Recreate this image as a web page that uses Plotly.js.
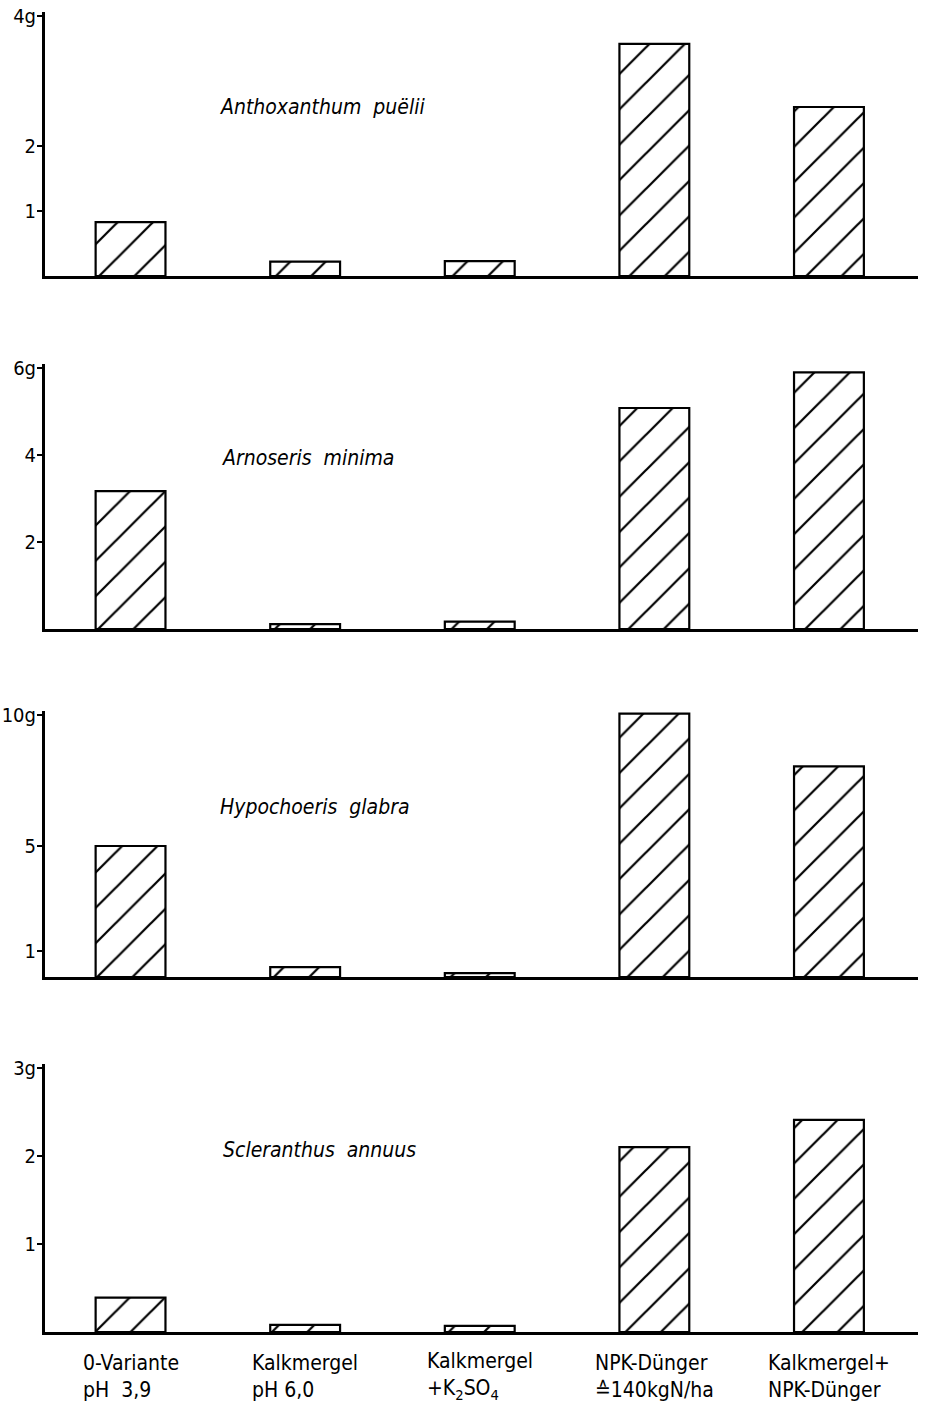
<!DOCTYPE html>
<html>
<head>
<meta charset="utf-8">
<script src="https://cdn.plot.ly/plotly-3.0.1.min.js"></script>
<style>html,body{margin:0;padding:0;background:#fff;}#chart{width:926px;height:1406px;}</style>
</head>
<body>
<div id="chart"></div>
<script>
// ---- data ----
var categories = ['0-Variante', 'Kalkmergel pH 6,0', 'Kalkmergel +K2SO4', 'NPK-Dünger', 'Kalkmergel+NPK-Dünger'];
var categoryLabels = [
  '0-Variante<br>pH\u00a0\u00a03,9',
  'Kalkmergel<br>pH 6,0',
  'Kalkmergel<br>+K<sub>2</sub>SO<sub>4</sub>',
  'NPK-Dünger<br>\u2259140kgN/ha',
  'Kalkmergel+<br>NPK-Dünger'
];
var speciesNames = ['Anthoxanthum\u00a0\u00a0puëlii', 'Arnoseris\u00a0\u00a0minima', 'Hypochoeris\u00a0\u00a0glabra', 'Scleranthus\u00a0\u00a0annuus'];
var anthoxanthum = [0.83, 0.22, 0.23, 3.57, 2.6];
var arnoseris = [3.17, 0.11, 0.17, 5.08, 5.9];
var hypochoeris = [5.0, 0.38, 0.15, 10.05, 8.04];
var scleranthus = [0.39, 0.08, 0.07, 2.1, 2.41];
var seriesValues = [anthoxanthum, arnoseris, hypochoeris, scleranthus];
var yMax = [4, 6, 10, 3];
var tickVals = [[1, 2, 4], [2, 4, 6], [1, 5, 10], [1, 2, 3]];
var tickTexts = [['1', '2', '4g'], ['2', '4', '6g'], ['1', '5', '10g'], ['1', '2', '3g']];

// ---- layout helpers ----
var H = 1406, W = 926;
var FONT = 'DejaVu Sans Condensed, Liberation Sans Narrow, Arial Narrow, sans-serif';
var panelPix = [[276, 16], [629, 368], [977, 715], [1332, 1068]]; // [baseline, top tick] in px
var labelPix = [[218, 107], [220, 458], [218, 807], [221, 1150]];
var xs = [0, 1, 2, 3, 4];
var PAD = 4; // px of axis above top tick

var traces = [];
var layout = {
  width: W, height: H,
  margin: {l: 0, r: 0, t: 0, b: 0},
  paper_bgcolor: 'white', plot_bgcolor: 'rgba(0,0,0,0)',
  showlegend: false,
  font: {family: FONT, color: 'black', size: 20},
  annotations: []
};

for (var i = 0; i < 4; i++) {
  var sfx = i === 0 ? '' : String(i + 1);
  traces.push({
    type: 'bar',
    x: xs,
    y: seriesValues[i],
    width: 0.4,
    xaxis: 'x' + sfx,
    yaxis: 'y' + sfx,
    marker: {
      color: 'white',
      line: {color: 'black', width: 2.2},
      pattern: {shape: '/', fgcolor: 'black', bgcolor: 'white', size: 25, solidity: 0.09}
    },
    hoverinfo: 'skip'
  });
  var basePx = panelPix[i][0], topTickPx = panelPix[i][1];
  var unitPx = (basePx - topTickPx) / yMax[i];
  layout['xaxis' + sfx] = {
    domain: [45 / W, 918 / W],
    range: [-0.49, 4.51],
    anchor: 'y' + sfx,
    showgrid: false, zeroline: false,
    showline: true, linecolor: 'black', linewidth: 3,
    showticklabels: false, ticks: '',
    fixedrange: true
  };
  layout['yaxis' + sfx] = {
    domain: [(H - basePx) / H, (H - (topTickPx - PAD)) / H],
    range: [0, yMax[i] + PAD / unitPx],
    anchor: 'x' + sfx,
    showgrid: false, zeroline: false,
    showline: true, linecolor: 'black', linewidth: 3,
    tickmode: 'array', tickvals: tickVals[i], ticktext: tickTexts[i],
    ticks: 'outside', ticklen: 5, tickwidth: 2, tickcolor: 'black',
    ticklabelstandoff: -3,
    tickfont: {family: FONT, size: 20, color: 'black'},
    fixedrange: true
  };
  layout.annotations.push({
    xref: 'paper', yref: 'paper',
    x: labelPix[i][0] / W, y: (H - labelPix[i][1]) / H,
    xanchor: 'left', yanchor: 'middle',
    text: speciesNames[i],
    showarrow: false,
    font: {family: FONT, size: 21, style: 'italic', color: 'black'}
  });
}

for (var k = 0; k < categoryLabels.length; k++) {
  layout.annotations.push({
    xref: 'x4', yref: 'paper',
    x: xs[k], y: (H - 1376) / H,
    xanchor: 'center', yanchor: 'middle', align: 'left',
    text: categoryLabels[k],
    showarrow: false,
    font: {family: FONT, size: 21, color: 'black'}
  });
}

Plotly.newPlot('chart', traces, layout, {staticPlot: true});
</script>
</body>
</html>
